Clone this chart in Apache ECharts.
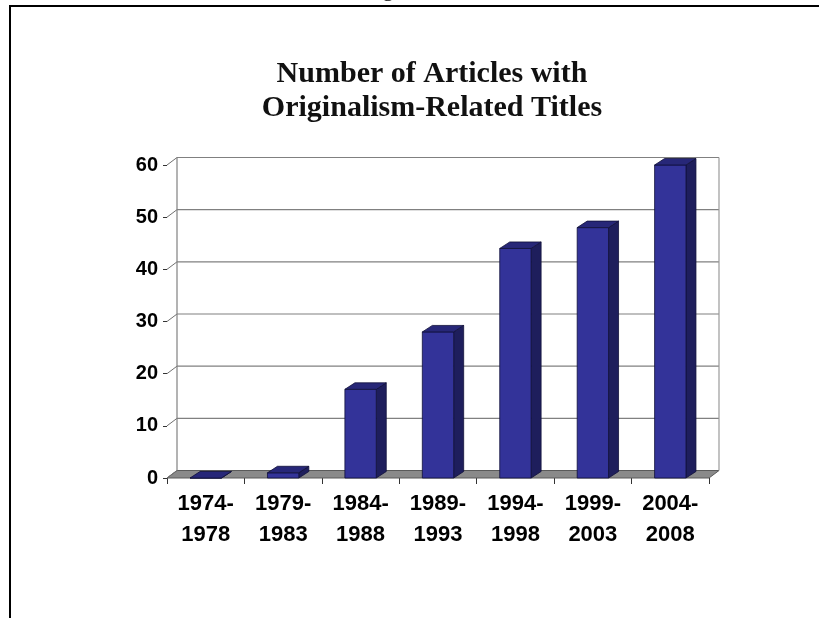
<!DOCTYPE html>
<html>
<head>
<meta charset="utf-8">
<style>
  html, body { margin: 0; padding: 0; background: #ffffff; }
  #chart { width: 819px; height: 618px; }
</style>
<script src="https://cdn.jsdelivr.net/npm/echarts@6/dist/echarts.min.js"></script>
</head>
<body>
<div id="chart"></div>
<script>
// Five-year periods and article counts
const categories = ['1974-1978', '1979-1983', '1984-1988', '1989-1993', '1994-1998', '1999-2003', '2004-2008'];
const articleCounts = [0, 1, 17, 28, 44, 48, 60];
const yTicks = [0, 10, 20, 30, 40, 50, 60];
const titleLines = ['Number of Articles with', 'Originalism-Related Titles'];

// Oblique depth of the wall/floor and of the bars
const WALL_DX = 10, WALL_DY = 7.5;
const BAR_DX = 10, BAR_DY = 6.5;

const chart = echarts.init(document.getElementById('chart'), null, { renderer: 'canvas' });

// Back wall gridlines, side-wall diagonals and the grey floor
function renderWall(params, api) {
  const cs = params.coordSys;
  const v = api.value(1);
  const y = api.coord([0, v])[1];
  const x0 = cs.x, x1 = cs.x + cs.width;
  const children = [];
  if (v === yTicks[0]) {
    children.push({
      type: 'polygon',
      shape: { points: [[x0, y], [x1, y], [x1 + WALL_DX, y - WALL_DY], [x0 + WALL_DX, y - WALL_DY]] },
      style: { fill: '#8a8a8a', stroke: '#5a5a5a', lineWidth: 1 }
    });
  } else {
    children.push({
      type: 'line',
      shape: { x1: x0 + WALL_DX, y1: y - WALL_DY, x2: x1 + WALL_DX, y2: y - WALL_DY },
      style: { stroke: '#808080', lineWidth: 1.2 }
    });
  }
  children.push({
    type: 'line',
    shape: { x1: x0, y1: y, x2: x0 + WALL_DX, y2: y - WALL_DY },
    style: { stroke: '#707070', lineWidth: 1 }
  });
  if (v === yTicks[yTicks.length - 1]) {
    const yb = api.coord([0, yTicks[0]])[1] - WALL_DY;
    children.push({
      type: 'line',
      shape: { x1: x0 + WALL_DX, y1: y - WALL_DY, x2: x0 + WALL_DX, y2: yb },
      style: { stroke: '#808080', lineWidth: 1.2 }
    });
    children.push({
      type: 'line',
      shape: { x1: x1 + WALL_DX, y1: y - WALL_DY, x2: x1 + WALL_DX, y2: yb },
      style: { stroke: '#9a9a9a', lineWidth: 1.2 }
    });
  }
  return { type: 'group', children: children };
}

// Box-shaped bar: front face, top face and right side face
function renderBar(params, api) {
  const i = api.value(0), v = api.value(1);
  const top = api.coord([i, v]);
  const base = api.coord([i, 0]);
  const w = api.size([1, 0])[0] * 0.405;
  const xL = top[0] - w / 2, xR = top[0] + w / 2;
  const yT = top[1], yB = base[1];
  const edge = { stroke: '#10103a', lineWidth: 0.8 };
  return {
    type: 'group',
    children: [
      {
        type: 'polygon',
        shape: { points: [[xR, yT], [xR + BAR_DX, yT - BAR_DY], [xR + BAR_DX, yB - BAR_DY], [xR, yB]] },
        style: Object.assign({ fill: '#1e1e5c' }, edge)
      },
      {
        type: 'rect',
        shape: { x: xL, y: yT, width: w, height: yB - yT },
        style: Object.assign({ fill: '#333399' }, edge)
      },
      {
        type: 'polygon',
        shape: { points: [[xL, yT], [xR, yT], [xR + BAR_DX, yT - BAR_DY], [xL + BAR_DX, yT - BAR_DY]] },
        style: Object.assign({ fill: '#272778' }, edge)
      }
    ]
  };
}

const option = {
  animation: false,
  backgroundColor: '#ffffff',
  grid: { left: 167, right: 110, top: 165, bottom: 140, containLabel: false },
  xAxis: {
    type: 'category',
    data: categories,
    boundaryGap: true,
    axisLine: { show: false },
    axisTick: { show: true, length: 6, interval: 0, lineStyle: { color: '#333333', width: 1 } },
    axisLabel: {
      interval: 0,
      margin: 10,
      color: '#000000',
      fontFamily: 'Liberation Sans',
      fontWeight: 'bold',
      fontSize: 22,
      lineHeight: 31,
      formatter: function (s) { return s.replace('-', '-\n'); }
    },
    splitLine: { show: false }
  },
  yAxis: {
    type: 'value',
    min: 0,
    max: 60,
    interval: 10,
    axisLine: { show: false },
    axisTick: { show: true, length: 4, lineStyle: { color: '#333333', width: 1 } },
    axisLabel: {
      margin: 9,
      color: '#000000',
      fontFamily: 'Liberation Sans',
      fontWeight: 'bold',
      fontSize: 20
    },
    splitLine: { show: false }
  },
  graphic: [
    {
      type: 'polyline',
      shape: { points: [[10, 640], [10, 6], [830, 6]] },
      style: { stroke: '#000000', lineWidth: 2, fill: null },
      silent: true
    },
    {
      type: 'text',
      x: 388,
      y: -10,
      style: {
        text: 'g',
        font: '22px "Liberation Serif"',
        fill: '#000000',
        textAlign: 'center',
        textVerticalAlign: 'middle'
      },
      silent: true
    },
    {
      type: 'text',
      x: 432,
      y: 57,
      style: {
        text: titleLines.join('\n'),
        font: 'bold 30px "Liberation Serif"',
        lineHeight: 34,
        fill: '#111111',
        textAlign: 'center',
        textVerticalAlign: 'top'
      },
      silent: true
    }
  ],
  series: [
    {
      type: 'custom',
      name: 'wall',
      clip: false,
      silent: true,
      renderItem: renderWall,
      encode: { x: 0, y: 1 },
      data: yTicks.map(function (v) { return [0, v]; }),
      z: 1
    },
    {
      type: 'custom',
      name: 'Articles',
      clip: false,
      silent: true,
      renderItem: renderBar,
      encode: { x: 0, y: 1 },
      data: articleCounts.map(function (v, i) { return [i, v]; }),
      z: 2
    }
  ]
};

chart.setOption(option);
</script>
</body>
</html>
